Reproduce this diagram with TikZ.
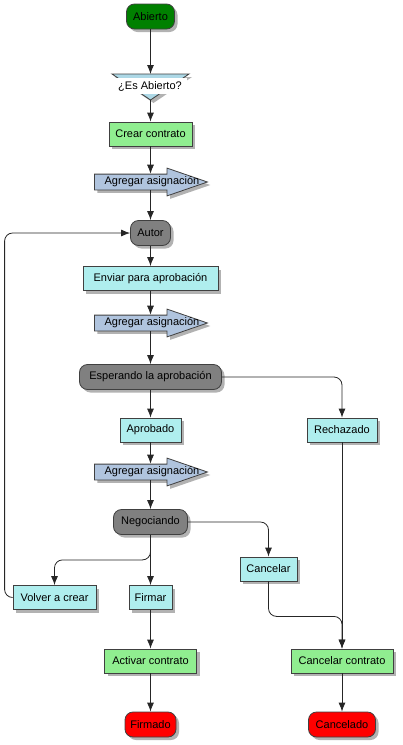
\documentclass[tikz,border=0pt]{standalone}
\usepackage{fontspec}
\setmainfont{Liberation Sans}
\usetikzlibrary{arrows.meta,shapes.arrows,shadows}

\definecolor{startgreen}{RGB}{0,128,0}
\definecolor{taskgreen}{RGB}{144,238,144}
\definecolor{taskcyan}{RGB}{175,238,238}
\definecolor{stategray}{RGB}{128,128,128}
\definecolor{endred}{RGB}{255,0,0}
\definecolor{asgblue}{RGB}{176,196,222}
\definecolor{decblue}{RGB}{173,216,230}
\definecolor{edgegray}{RGB}{64,64,64}

\begin{document}
\begin{tikzpicture}[x=1pt,y=-1pt,
  lbl/.style={font=\fontsize{11}{13}\selectfont,inner sep=0pt},
  base/.style={lbl,draw=edgegray,line width=0.8pt,
    drop shadow={shadow xshift=3pt,shadow yshift=-3pt,fill=black,opacity=0.3}},
  term/.style={base,rounded corners=8pt,minimum height=25pt},
  task/.style={base,minimum height=24pt},
  asg/.style={base,fill=asgblue,single arrow,single arrow head extend=6pt,anchor=tail,
    single arrow tip angle=38,minimum height=113pt,inner ysep=7.5pt,inner xsep=0pt},
  conn/.style={draw=black!85,line width=0.8pt,rounded corners=8pt,
    -{Latex[length=9pt,width=7pt]}}]
  \useasboundingbox (0,0) rectangle (402,745);

  \node[term,fill=startgreen,minimum width=48pt] (ab) at (150.5,16.5) {Abierto};

  \coordinate (dectop) at (150.5,74);
  \coordinate (decbot) at (150.5,100);
  \draw[base,fill=decblue] (112,74) -- (189,74) -- (decbot) -- cycle;
  \node[lbl,fill=white,minimum width=74pt,minimum height=16pt] (esab) at (150,86) {¿Es Abierto?};

  \node[task,fill=taskgreen,minimum width=83pt] (crear) at (150.5,134) {Crear contrato};
  \node[asg] (asg1) at (94,182) {};
  \node[lbl] (asg1t) at (152,182) {Agregar asignación};
  \node[term,fill=stategray,minimum width=40pt] (autor) at (150.5,233) {Autor};
  \node[task,fill=taskcyan,minimum width=135pt] (enviar) at (150.5,278.5) {Enviar para aprobación};
  \node[asg] (asg2) at (94,323) {};
  \node[lbl] (asg2t) at (152,323) {Agregar asignación};
  \node[term,fill=stategray,minimum width=142pt] (esp) at (150.5,377) {Esperando la aprobación};
  \node[task,fill=taskcyan,minimum width=61pt] (aprob) at (150.5,430) {Aprobado};
  \node[task,fill=taskcyan,minimum width=70pt] (rech) at (342,430) {Rechazado};
  \node[asg] (asg3) at (94,472) {};
  \node[lbl] (asg3t) at (152,472) {Agregar asignación};
  \node[term,fill=stategray,minimum width=74pt] (nego) at (150.5,522) {Negociando};
  \node[task,fill=taskcyan,minimum width=57pt] (canc) at (268.5,569) {Cancelar};
  \node[task,fill=taskcyan,minimum width=83pt] (volver) at (54.5,597.5) {Volver a crear};
  \node[task,fill=taskcyan,minimum width=43pt] (firmar) at (150.5,597.5) {Firmar};
  \node[task,fill=taskgreen,minimum width=92pt] (activar) at (150.5,661) {Activar contrato};
  \node[task,fill=taskgreen,minimum width=102pt] (ccontr) at (342,661) {Cancelar contrato};
  \node[term,fill=endred,minimum width=51pt] (firmado) at (150.5,724.5) {Firmado};
  \node[term,fill=endred,minimum width=67pt] (cancelado) at (342,724.5) {Cancelado};

  \draw[conn] (ab) -- (dectop);
  \draw[conn] (decbot) -- (crear);
  \draw[conn] (crear.south) -- (crear.south |- asg1.north);
  \draw[conn] (asg1.south -| autor) -- (autor);
  \draw[conn] (autor) -- (enviar);
  \draw[conn] (enviar.south) -- (enviar.south |- asg2.north);
  \draw[conn] (asg2.south -| esp) -- (esp);
  \draw[conn] (esp) -- (aprob);
  \draw[conn] (esp) -| (rech);
  \draw[conn] (aprob.south) -- (aprob.south |- asg3.north);
  \draw[conn] (asg3.south -| nego) -- (nego);
  \draw[conn] (nego) -| (canc);
  \draw[conn] (nego) -- (firmar);
  \draw[conn] (nego.south) -- ++(0,25) -| (volver);
  \draw[conn] (volver.west) -- ++(-8,0) |- (autor);
  \draw[conn] (canc.south) -- ++(0,35) -| (ccontr);
  \draw[conn] (rech) -- (ccontr);
  \draw[conn] (firmar) -- (activar);
  \draw[conn] (activar) -- (firmado);
  \draw[conn] (ccontr) -- (cancelado);
\end{tikzpicture}
\end{document}
